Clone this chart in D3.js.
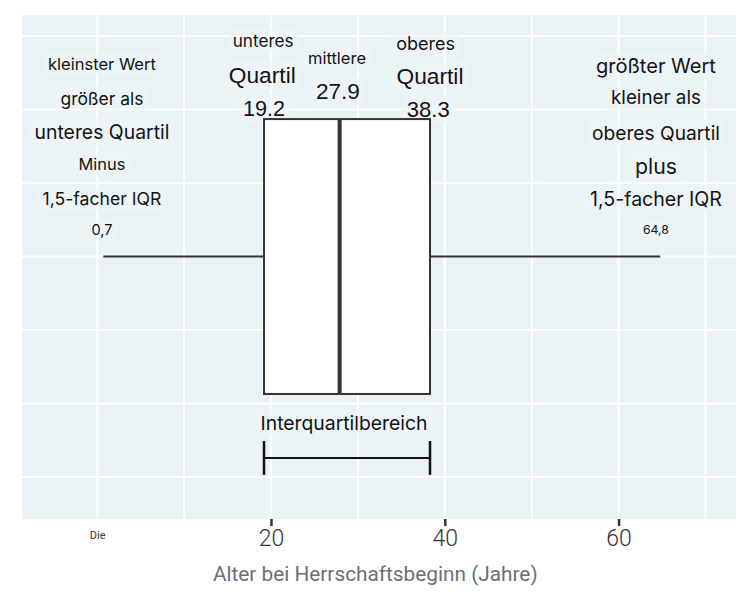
<!DOCTYPE html>
<html><head><meta charset="utf-8">
<script src="https://cdn.jsdelivr.net/npm/d3@7"></script>
<style>body{margin:0;background:#fff}svg{display:block}</style>
</head><body>
<svg id="chart" width="750" height="600"></svg>
<script>
// ---- data ----
const statNames = ["min", "q1", "median", "q3", "max"];
const statValues = [0.7, 19.2, 27.9, 38.3, 64.8];
const xMajorTicks = [0, 20, 40, 60];
const xTickLabels = ["Die", "20", "40", "60"];
const xMinorTicks = [10, 30, 50, 70];
const yGridValues = [0, 1, 2, 3, 4, 5, 6];
const leftNoteLines = ["kleinster Wert", "größer als", "unteres Quartil", "Minus", "1,5-facher IQR", "0,7"];
const rightNoteLines = ["größter Wert", "kleiner als", "oberes Quartil", "plus", "1,5-facher IQR", "64,8"];
const q1Lines = ["unteres", "Quartil", "19.2"];
const medLines = ["mittlere", "27.9"];
const q3Lines = ["oberes", "Quartil", "38.3"];
const iqrLabel = "Interquartilbereich";
const xTitle = "Alter bei Herrschaftsbeginn (Jahre)";

const S = {};
statNames.forEach((n, i) => S[n] = statValues[i]);

const svg = d3.select("#chart");
const panel = {l: 22, r: 736, t: 15, b: 519};
const x = d3.scaleLinear().domain([-8.65, 73.51]).range([panel.l, panel.r]);
const y = d3.scaleLinear().domain([-0.571, 6.286]).range([panel.b, panel.t]);

// panel
svg.append("rect").attr("x", panel.l).attr("y", panel.t)
  .attr("width", panel.r - panel.l).attr("height", panel.b - panel.t).attr("fill", "#e9f2f5");

const grid = svg.append("g");
grid.selectAll(".hg").data(yGridValues).join("line")
  .attr("x1", panel.l).attr("x2", panel.r).attr("y1", d => y(d)).attr("y2", d => y(d))
  .attr("stroke", "#fff").attr("stroke-width", 2);
grid.selectAll(".vmin").data(xMinorTicks).join("line")
  .attr("y1", panel.t).attr("y2", panel.b).attr("x1", d => x(d)).attr("x2", d => x(d))
  .attr("stroke", "#fff").attr("stroke-width", 2);
grid.selectAll(".vmaj").data(xMajorTicks).join("line")
  .attr("y1", panel.t).attr("y2", panel.b).attr("x1", d => x(d)).attr("x2", d => x(d))
  .attr("stroke", "#fff").attr("stroke-width", 2.4);

// x axis
const ax = svg.append("g").attr("transform", `translate(0,${panel.b})`)
  .call(d3.axisBottom(x).tickValues(xMajorTicks).tickSize(7).tickPadding(4)
    .tickFormat((d, i) => xTickLabels[i]));
ax.select(".domain").remove();
ax.selectAll(".tick line").attr("stroke", d => d === 0 ? "#fff" : "#333").attr("stroke-width", 2.5);
ax.selectAll(".tick text")
  .attr("font-family", "Roboto").attr("font-weight", d => d === 0 ? 400 : 300)
  .attr("font-size", d => d === 0 ? 11 : 23).attr("fill", "#333")
  .attr("dy", d => d === 0 ? "0.8em" : "0.71em");

// labels with background, sized to a target width
const labelLayer = svg.append("g");
function label(txt, xv, yv, targetW, family, weight, color) {
  const g = labelLayer.append("g");
  const t = g.append("text").attr("x", x(xv)).attr("y", y(yv)).attr("dy", "0.35em")
    .attr("text-anchor", "middle").attr("font-family", family || "Inter")
    .attr("font-weight", weight || 400).attr("font-size", 20).attr("fill", color || "#141414").text(txt);
  const len = t.node().getComputedTextLength();
  t.attr("font-size", 20 * targetW / len);
  return {g, t};
}
function bg(o) {
  const bb = o.t.node().getBBox();
  o.g.insert("rect", "text").attr("x", bb.x - 5).attr("y", bb.y - 2)
    .attr("width", bb.width + 10).attr("height", bb.height + 4).attr("rx", 5)
    .attr("fill", "#eef5f8").attr("opacity", 0.6);
}

// axis title
label(xTitle, 32.0, -1.31, 325, "Roboto", 400, "#6b7078");

// box
const yc = 3, halfH = 1.87;
const box = svg.append("g");
box.append("line").attr("x1", x(S.min)).attr("x2", x(S.q1)).attr("y1", y(yc)).attr("y2", y(yc))
  .attr("stroke", "#333").attr("stroke-width", 2);
box.append("line").attr("x1", x(S.q3)).attr("x2", x(S.max)).attr("y1", y(yc)).attr("y2", y(yc))
  .attr("stroke", "#333").attr("stroke-width", 2);
box.append("rect").attr("x", x(S.q1)).attr("y", y(yc + halfH))
  .attr("width", x(S.q3) - x(S.q1)).attr("height", y(yc - halfH) - y(yc + halfH))
  .attr("fill", "#fff").attr("stroke", "#333").attr("stroke-width", 2);
box.append("line").attr("x1", x(S.median)).attr("x2", x(S.median))
  .attr("y1", y(yc + halfH)).attr("y2", y(yc - halfH)).attr("stroke", "#333").attr("stroke-width", 4);

// IQR bracket
const br = svg.append("g");
br.append("line").attr("x1", x(S.q1)).attr("x2", x(S.q3)).attr("y1", y(0.26)).attr("y2", y(0.26))
  .attr("stroke", "#111").attr("stroke-width", 2);
[S.q1, S.q3].forEach(v => br.append("line").attr("x1", x(v)).attr("x2", x(v))
  .attr("y1", y(0.49)).attr("y2", y(0.03)).attr("stroke", "#111").attr("stroke-width", 2.5));
bg(label(iqrLabel, 28.4, 0.73, 167));

// side notes
const leftY = [5.62, 5.14, 4.69, 4.26, 3.78, 3.36];
const leftW = [108, 83, 135, 47, 119, 21];
leftNoteLines.forEach((t, i) => bg(label(t, 0.55, leftY[i], leftW[i])));
const rightY = [5.59, 5.16, 4.68, 4.22, 3.78, 3.36];
const rightW = [120, 90, 128, 42, 132, 26];
rightNoteLines.forEach((t, i) => bg(label(t, 64.3, rightY[i], rightW[i])));

// quartile labels
bg(label(q1Lines[0], S.q1 - 0.1, 5.93, 61));
bg(label(q1Lines[1], S.q1 - 0.2, 5.47, 67, "Liberation Sans"));
bg(label(q1Lines[2], S.q1, 5.01, 42, "Liberation Sans"));
bg(label(medLines[0], S.median - 0.3, 5.70, 58));
bg(label(medLines[1], S.median - 0.2, 5.25, 44, "Liberation Sans"));
bg(label(q3Lines[0], S.q3 - 0.5, 5.89, 59));
bg(label(q3Lines[1], S.q3, 5.46, 67, "Liberation Sans"));
bg(label(q3Lines[2], S.q3 - 0.2, 5.01, 43, "Liberation Sans"));
</script>
</body></html>
